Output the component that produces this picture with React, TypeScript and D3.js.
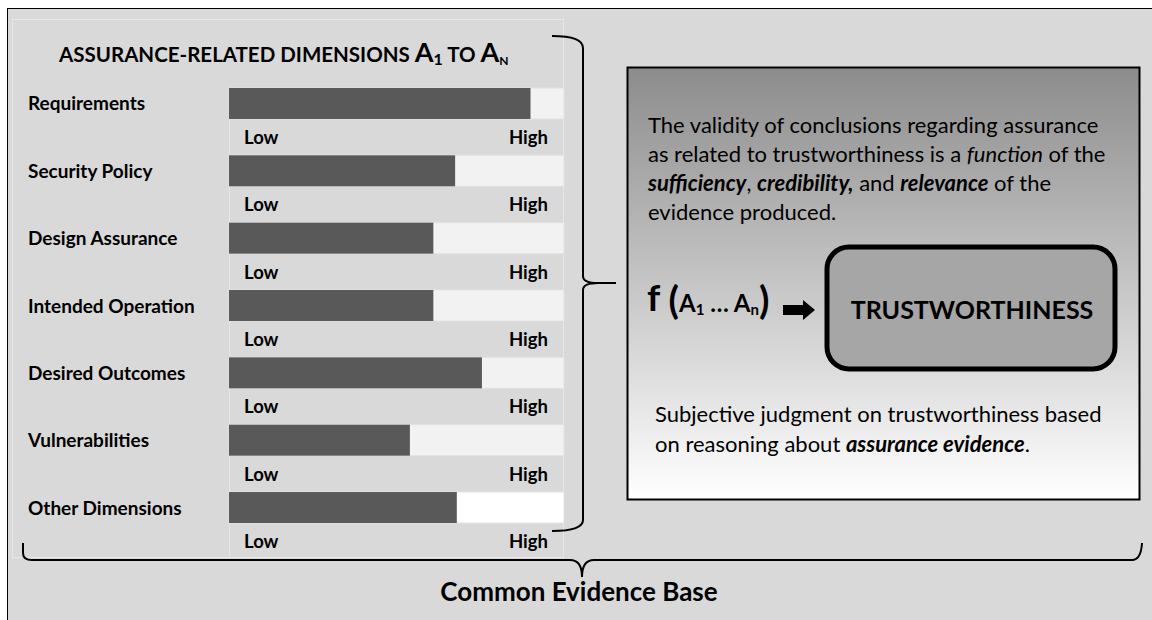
import React, { useEffect, useRef } from "react";
import * as d3 from "d3";

const dimensions = [
  "Requirements",
  "Security Policy",
  "Design Assurance",
  "Intended Operation",
  "Desired Outcomes",
  "Vulnerabilities",
  "Other Dimensions",
];
const levels = [0.9, 0.675, 0.61, 0.61, 0.755, 0.54, 0.68];
const scaleLabels = ["Low", "High"];

const W = 1152;
const H = 620;
const FONT = "Lato, 'Open Sans', sans-serif";

const App = () => {
  const ref = useRef<SVGSVGElement>(null);

  useEffect(() => {
    const svg = d3.select(ref.current);
    svg.selectAll("*").remove();

    const defs = svg.append("defs");
    const grad = defs
      .append("linearGradient")
      .attr("id", "boxGrad")
      .attr("x1", 0)
      .attr("y1", 0)
      .attr("x2", 0)
      .attr("y2", 1);
    grad.append("stop").attr("offset", "0%").attr("stop-color", "#8c8c8c");
    grad.append("stop").attr("offset", "100%").attr("stop-color", "#ffffff");

    // page + outer frame
    svg.append("rect").attr("width", W).attr("height", H).attr("fill", "#fff");
    svg
      .append("rect")
      .attr("x", 7.5)
      .attr("y", 8.5)
      .attr("width", W + 20)
      .attr("height", H + 20)
      .attr("fill", "#d9d9d9")
      .attr("stroke", "#000")
      .attr("stroke-width", 1);

    // chart panel
    svg
      .append("rect")
      .attr("x", 12.5)
      .attr("y", 19.5)
      .attr("width", 551)
      .attr("height", 538)
      .attr("fill", "#d9d9d9")
      .attr("stroke", "#e6e6e6");

    const x = d3.scaleLinear().domain([0, 1]).range([229, 564]);
    const y = d3
      .scaleBand<string>()
      .domain(dimensions)
      .range([88, 523])
      .paddingInner(0.54)
      .paddingOuter(0);

    // separator between label column and bars
    svg
      .append("line")
      .attr("x1", x(0) + 0.5)
      .attr("x2", x(0) + 0.5)
      .attr("y1", y(dimensions[0])!)
      .attr("y2", 557)
      .attr("stroke", "#e6e6e6");

    // title
    const title = svg
      .append("text")
      .attr("x", 59)
      .attr("y", 62)
      .attr("font-family", FONT)
      .attr("font-weight", 700)
      .attr("font-size", 20.5)
      .attr("fill", "#000");
    title.append("tspan").text("ASSURANCE-RELATED DIMENSIONS ");
    title.append("tspan").attr("font-size", 27).text("A");
    title.append("tspan").attr("font-size", 16).attr("dy", 3).text("1");
    title.append("tspan").attr("dy", -3).text(" TO  ");
    title.append("tspan").attr("font-size", 27).text("A");
    title.append("tspan").attr("font-size", 12).attr("dy", 3).text("N");

    const rows = svg
      .selectAll(".row")
      .data(dimensions)
      .enter()
      .append("g")
      .attr("class", "row");

    rows
      .append("rect")
      .attr("x", x(0))
      .attr("y", (d) => y(d)!)
      .attr("width", x(1) - x(0))
      .attr("height", y.bandwidth())
      .attr("fill", (d, i) => (i === dimensions.length - 1 ? "#ffffff" : "#f2f2f2"))
      .attr("stroke", "#e3e3e3");

    rows
      .append("rect")
      .attr("x", x(0))
      .attr("y", (d) => y(d)!)
      .attr("width", (d, i) => x(levels[i]) - x(0))
      .attr("height", y.bandwidth())
      .attr("fill", "#595959");

    rows
      .append("text")
      .attr("x", 28)
      .attr("y", (d) => y(d)! + y.bandwidth() / 2 + 7)
      .attr("font-family", FONT)
      .attr("font-weight", 700)
      .attr("font-size", 19)
      .attr("fill", "#000")
      .text((d) => d);

    rows
      .append("text")
      .attr("x", 244)
      .attr("y", (d) => y(d)! + y.bandwidth() + 25)
      .attr("font-family", FONT)
      .attr("font-weight", 700)
      .attr("font-size", 18.5)
      .text(scaleLabels[0]);

    rows
      .append("text")
      .attr("x", 548)
      .attr("text-anchor", "end")
      .attr("y", (d) => y(d)! + y.bandwidth() + 25)
      .attr("font-family", FONT)
      .attr("font-weight", 700)
      .attr("font-size", 18.5)
      .text(scaleLabels[1]);

    // braces
    const braceStyle = (p: any) =>
      p.attr("fill", "none").attr("stroke", "#000").attr("stroke-width", 2);
    svg
      .append("path")
      .attr(
        "d",
        "M552,36 Q583,36 583,48 L583,276 Q583,283 598,283 L616,283 M598,283 Q583,283 583,290 L583,520 Q583,531 552,531"
      )
      .call(braceStyle);
    svg
      .append("path")
      .attr(
        "d",
        "M23,543 L23,553 Q23,560 32,560 L570,560 Q582,560 582,577 Q582,560 594,560 L1132,560 Q1141,560 1142,543"
      )
      .call(braceStyle);

    // right box
    svg
      .append("rect")
      .attr("x", 627.5)
      .attr("y", 67.5)
      .attr("width", 512)
      .attr("height", 432)
      .attr("fill", "url(#boxGrad)")
      .attr("stroke", "#000")
      .attr("stroke-width", 2);

    const body = svg
      .append("g")
      .attr("font-family", FONT)
      .attr("font-size", 22)
      .attr("fill", "#000");

    const addLine = (yy: number, parts: [string, string][], x0 = 648) => {
      const t = body.append("text").attr("x", x0).attr("y", yy);
      parts.forEach(([s, st]) => {
        const sp = t.append("tspan").text(s);
        if (st.includes("b")) sp.attr("font-weight", 700);
        if (st.includes("i")) sp.attr("font-style", "italic");
      });
    };

    addLine(133, [["The validity of conclusions regarding assurance", ""]]);
    addLine(162, [
      ["as related to trustworthiness is a ", ""],
      ["function", "i"],
      [" of the", ""],
    ]);
    addLine(191, [
      ["sufficiency", "bi"],
      [", ", ""],
      ["credibility,", "bi"],
      [" and ", ""],
      ["relevance", "bi"],
      [" of the", ""],
    ]);
    addLine(220, [["evidence produced.", ""]]);

    addLine(422, [["Subjective judgment on trustworthiness based", ""]], 655);
    addLine(452, [
      ["on reasoning about ", ""],
      ["assurance evidence", "bi"],
      [".", ""],
    ], 655);

    // f (A1 ... An) expression
    const f = svg
      .append("text")
      .attr("x", 647)
      .attr("y", 311)
      .attr("font-family", FONT)
      .attr("font-weight", 700)
      .attr("fill", "#000");
    f.append("tspan").attr("font-size", 37).text("f ");
    f.append("tspan").attr("font-size", 38).attr("dy", 3).text("(");
    f.append("tspan").attr("font-size", 24).attr("dy", -2).text("A");
    f.append("tspan").attr("font-size", 15).attr("dy", 3).text("1");
    f.append("tspan").attr("font-size", 24).attr("dy", -3).text(" …  A");
    f.append("tspan").attr("font-size", 15).attr("dy", 3).text("n");
    f.append("tspan").attr("font-size", 38).attr("dy", -1).text(")");

    // arrow
    svg
      .append("path")
      .attr("d", "M783,305 L803,305 L803,300 L815,310 L803,320 L803,315 L783,315 Z")
      .attr("fill", "#000");

    // trustworthiness box
    svg
      .append("rect")
      .attr("x", 827)
      .attr("y", 247)
      .attr("width", 288)
      .attr("height", 122)
      .attr("rx", 22)
      .attr("fill", "#a6a6a6")
      .attr("stroke", "#000")
      .attr("stroke-width", 5);
    svg
      .append("text")
      .attr("x", 972)
      .attr("y", 319)
      .attr("text-anchor", "middle")
      .attr("font-family", FONT)
      .attr("font-weight", 700)
      .attr("font-size", 25)
      .text("TRUSTWORTHINESS");

    svg
      .append("text")
      .attr("x", 579)
      .attr("y", 601)
      .attr("text-anchor", "middle")
      .attr("font-family", FONT)
      .attr("font-weight", 700)
      .attr("font-size", 26)
      .text("Common Evidence Base");
  }, []);

  return (
    <svg
      ref={ref}
      width={W}
      height={H}
      style={{ position: "absolute", left: 0, top: 0 }}
    />
  );
};

export default App;
